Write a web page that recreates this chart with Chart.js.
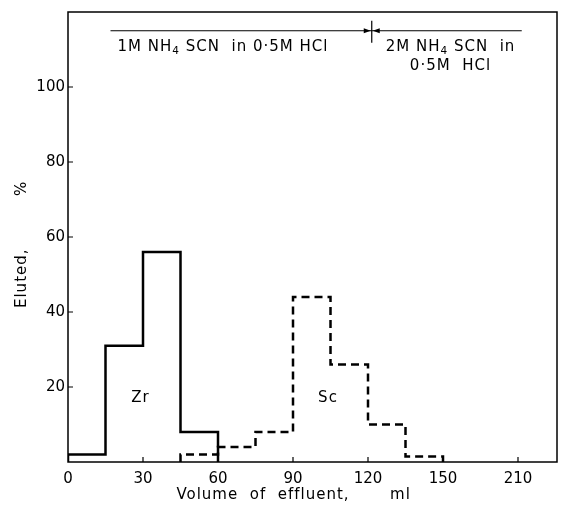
<!DOCTYPE html>
<html>
<head>
<meta charset="utf-8">
<script src="https://cdn.jsdelivr.net/npm/chart.js@4/dist/chart.umd.min.js"></script>
<style>
  html, body { margin: 0; padding: 0; background: #fff; }
  #wrap { width: 562px; height: 516px; }
</style>
</head>
<body>
<div id="wrap"><canvas id="chart" width="562" height="516"></canvas></div>
<script>
// elution histograms, % eluted per 15 ml fraction
const zrEdges = [0, 15, 30, 45, 60]
const zrValues = [2, 31, 56, 8]
const scEdges = [45, 60, 75, 90, 105, 120, 135, 150]
const scValues = [2, 4, 8, 44, 26, 10, 1.5]

const xTickValues = [0, 30, 60, 90, 120, 150, 180]
const xTickLabels = ['0', '30', '60', '90', '120', '150', '210']
const yTickValues = [20, 40, 60, 80, 100]

// eluent change marker (ml) and the arrow line above the peaks
const eluentSwitch = 121.5
const eluentLine = [17, 181.5]
const eluentLineLevel = 115

const FONT = '"DejaVu Sans", sans-serif'

// turn bin edges + heights into points for a stepped line
function histogramPoints(edges, values) {
  const pts = [{ x: edges[0], y: 0 }]
  values.forEach((v, i) => pts.push({ x: edges[i], y: v }))
  pts.push({ x: edges[edges.length - 1], y: 0 })
  return pts
}

// text with subscript pieces, centred on x
function drawRich(ctx, cx, y, parts, size) {
  ctx.save()
  ctx.letterSpacing = '1px'
  ctx.textBaseline = 'alphabetic'
  ctx.textAlign = 'left'
  let total = 0
  parts.forEach(([txt, sub]) => {
    ctx.font = (sub ? size * 0.7 : size) + 'px ' + FONT
    total += ctx.measureText(txt).width
  })
  let x = cx - total / 2
  parts.forEach(([txt, sub]) => {
    ctx.font = (sub ? size * 0.7 : size) + 'px ' + FONT
    ctx.fillText(txt, x, sub ? y + 3 : y)
    x += ctx.measureText(txt).width
  })
  ctx.restore()
}

const decorations = {
  id: 'decorations',
  afterDraw(chart) {
    const { ctx, chartArea: a, scales: { x, y } } = chart
    ctx.save()
    ctx.strokeStyle = '#000'
    ctx.fillStyle = '#000'

    // frame
    ctx.lineWidth = 1.5
    ctx.strokeRect(a.left, a.top, a.right - a.left, a.bottom - a.top)

    // inward ticks
    ctx.lineWidth = 1.2
    ctx.beginPath()
    yTickValues.forEach(v => {
      const py = y.getPixelForValue(v)
      ctx.moveTo(a.left, py)
      ctx.lineTo(a.left + 5, py)
    })
    xTickValues.slice(1).forEach(v => {
      const px = x.getPixelForValue(v)
      ctx.moveTo(px, a.bottom)
      ctx.lineTo(px, a.bottom - 5)
    })
    ctx.stroke()

    // eluent line with divider and arrows
    const ly = y.getPixelForValue(eluentLineLevel)
    const sx = x.getPixelForValue(eluentSwitch)
    ctx.lineWidth = 1.2
    ctx.beginPath()
    ctx.moveTo(x.getPixelForValue(eluentLine[0]), ly)
    ctx.lineTo(x.getPixelForValue(eluentLine[1]), ly)
    ctx.moveTo(sx, ly - 10)
    ctx.lineTo(sx, ly + 12)
    ctx.stroke()
    ctx.beginPath()
    ctx.moveTo(sx - 1, ly); ctx.lineTo(sx - 8, ly - 2.5); ctx.lineTo(sx - 8, ly + 2.5); ctx.closePath()
    ctx.moveTo(sx + 1, ly); ctx.lineTo(sx + 8, ly - 2.5); ctx.lineTo(sx + 8, ly + 2.5); ctx.closePath()
    ctx.fill()

    drawRich(ctx, x.getPixelForValue(62), ly + 20,
      [['1M NH'], ['4', true], [' SCN  in 0·5M HCl']], 15)
    drawRich(ctx, x.getPixelForValue(153), ly + 20,
      [['2M NH'], ['4', true], [' SCN  in']], 15)
    drawRich(ctx, x.getPixelForValue(153), ly + 39, [['0·5M  HCl']], 15)

    // peak labels
    ctx.font = '15px ' + FONT
    ctx.letterSpacing = '1px'
    ctx.textAlign = 'center'
    ctx.textBaseline = 'middle'
    ctx.fillText('Zr', x.getPixelForValue(29), y.getPixelForValue(17))
    ctx.fillText('Sc', x.getPixelForValue(104), y.getPixelForValue(17))

    // axis titles
    ctx.fillText('Volume  of  effluent,', x.getPixelForValue(78), a.bottom + 33)
    ctx.fillText('ml', x.getPixelForValue(133), a.bottom + 33)
    ctx.save()
    ctx.translate(a.left - 46, y.getPixelForValue(49))
    ctx.rotate(-Math.PI / 2)
    ctx.fillText('Eluted,', 0, 0)
    ctx.restore()
    ctx.save()
    ctx.translate(a.left - 46, y.getPixelForValue(73))
    ctx.rotate(-Math.PI / 2)
    ctx.fillText('%', 0, 0)
    ctx.restore()

    ctx.restore()
  }
}

new Chart(document.getElementById('chart'), {
  type: 'line',
  data: {
    datasets: [
      {
        label: 'Zr',
        data: histogramPoints(zrEdges, zrValues),
        borderColor: '#000',
        borderWidth: 2.5,
        stepped: 'before',
        pointRadius: 0,
        fill: false
      },
      {
        label: 'Sc',
        data: histogramPoints(scEdges, scValues),
        borderColor: '#000',
        borderWidth: 2.5,
        borderDash: [8, 5],
        stepped: 'before',
        pointRadius: 0,
        fill: false
      }
    ]
  },
  options: {
    responsive: false,
    animation: false,
    layout: { padding: { top: 7, right: 5, left: 0, bottom: 0 } },
    plugins: {
      legend: { display: false },
      tooltip: { enabled: false }
    },
    scales: {
      x: {
        type: 'linear',
        min: 0,
        max: 195.6,
        grid: { display: false, drawTicks: false },
        border: { display: false },
        afterBuildTicks: (scale) => { scale.ticks = xTickValues.map(v => ({ value: v })) },
        afterFit: (scale) => { scale.height = 54 },
        ticks: {
          color: '#000',
          padding: 8,
          maxRotation: 0,
          font: { family: FONT, size: 15 },
          callback: (value, i) => xTickLabels[i]
        }
      },
      y: {
        type: 'linear',
        min: 0,
        max: 120,
        grid: { display: false, drawTicks: false },
        border: { display: false },
        afterBuildTicks: (scale) => { scale.ticks = yTickValues.map(v => ({ value: v })) },
        afterFit: (scale) => { scale.width = 68 },
        ticks: {
          color: '#000',
          padding: 3,
          font: { family: FONT, size: 15 }
        }
      }
    }
  },
  plugins: [decorations]
})
</script>
</body>
</html>
